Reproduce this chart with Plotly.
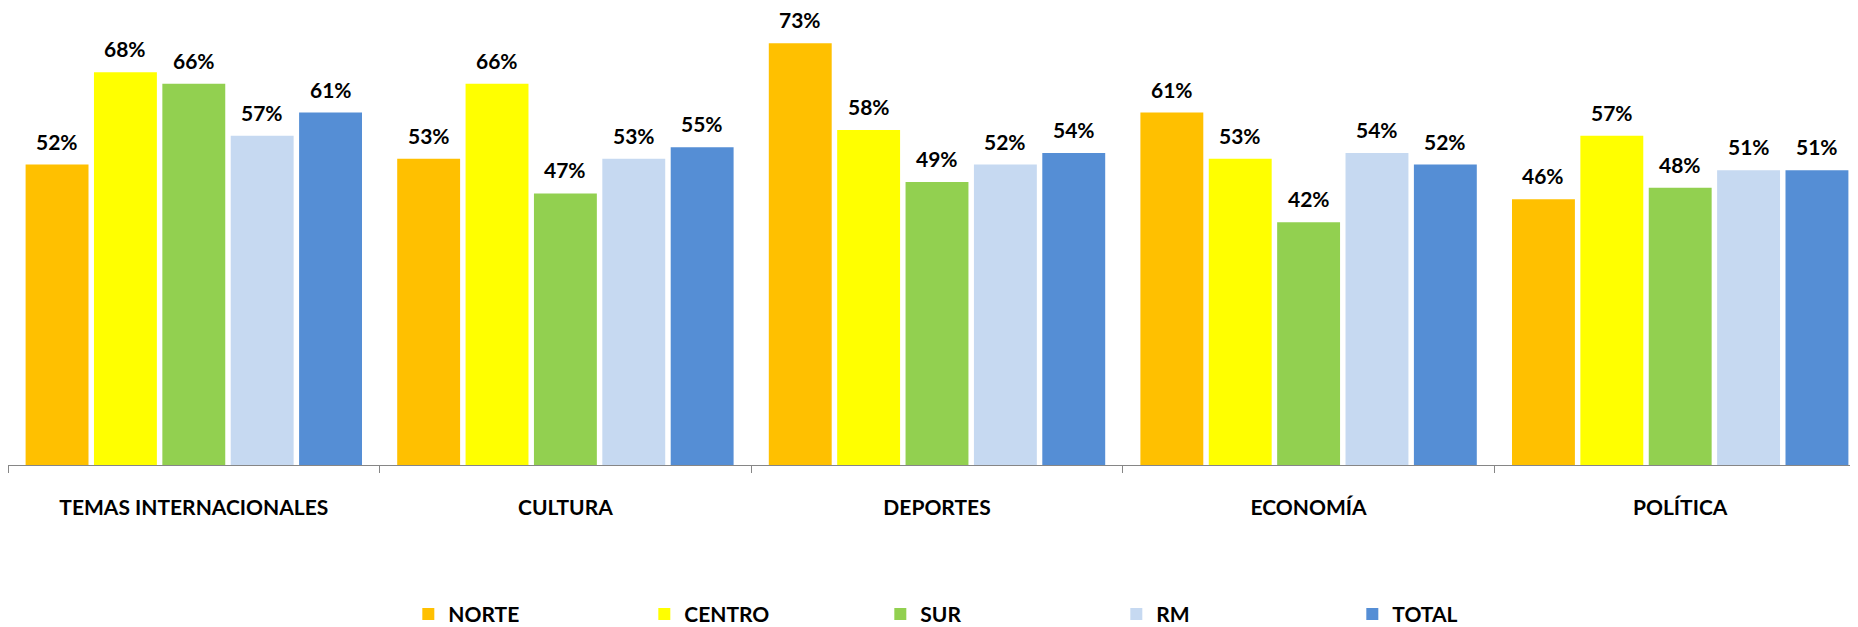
import plotly.graph_objects as go

categories = ["TEMAS INTERNACIONALES", "CULTURA", "DEPORTES", "ECONOMÍA", "POLÍTICA"]
series_names = ["NORTE", "CENTRO", "SUR", "RM", "TOTAL"]
norte = [52, 53, 73, 61, 46]
centro = [68, 66, 58, 53, 57]
sur = [66, 47, 49, 42, 48]
rm = [57, 53, 52, 54, 51]
total = [61, 55, 54, 52, 51]
series_values = [norte, centro, sur, rm, total]
colors = ["#FFC000", "#FFFF00", "#92D050", "#C6D9F1", "#558ED5"]

FONT = "Lato, Roboto, sans-serif"
BARGAP = 0.08

fig = go.Figure()
for name, vals, col in zip(series_names, series_values, colors):
    fig.add_trace(go.Bar(
        x=categories, y=vals, name=name,
        marker=dict(color=col, line=dict(width=0)),
        hoverinfo="x+y+name",
    ))

# data labels placed above each bar
n = len(series_names)
slot = (1 - BARGAP) / n
annotations = []
for j, vals in enumerate(series_values):
    for i, v in enumerate(vals):
        annotations.append(dict(
            x=i + (j - (n - 1) / 2) * slot, y=v, xref="x", yref="y",
            text=f"{v}%", showarrow=False, yanchor="bottom", yshift=9,
            font=dict(family=FONT, size=21, color="#000000", weight="bold"),
        ))

fig.update_layout(
    width=1858, height=627,
    margin=dict(l=0, r=0, t=0, b=166),
    paper_bgcolor="white", plot_bgcolor="white",
    barmode="group", bargap=BARGAP, bargroupgap=0.08,
    annotations=annotations,
    showlegend=True,
    legend=dict(
        orientation="h", x=0.533, xanchor="center", y=-0.327, yanchor="middle",
        font=dict(family=FONT, size=21, color="#000000", weight="bold"),
        entrywidth=191, entrywidthmode="pixels",
        itemclick=False, itemdoubleclick=False,
    ),
    xaxis=dict(
        type="category", showline=True, linecolor="#868686", linewidth=1,
        ticks="outside", tickson="boundaries", ticklen=7, tickcolor="#868686",
        tickfont=dict(family=FONT, size=21, color="#000000", weight="bold"),
        ticklabelstandoff=24, showgrid=False, zeroline=False,
    ),
    yaxis=dict(range=[0, 79.1], visible=False, showgrid=False, zeroline=False),
)

fig.write_html("out.html")
